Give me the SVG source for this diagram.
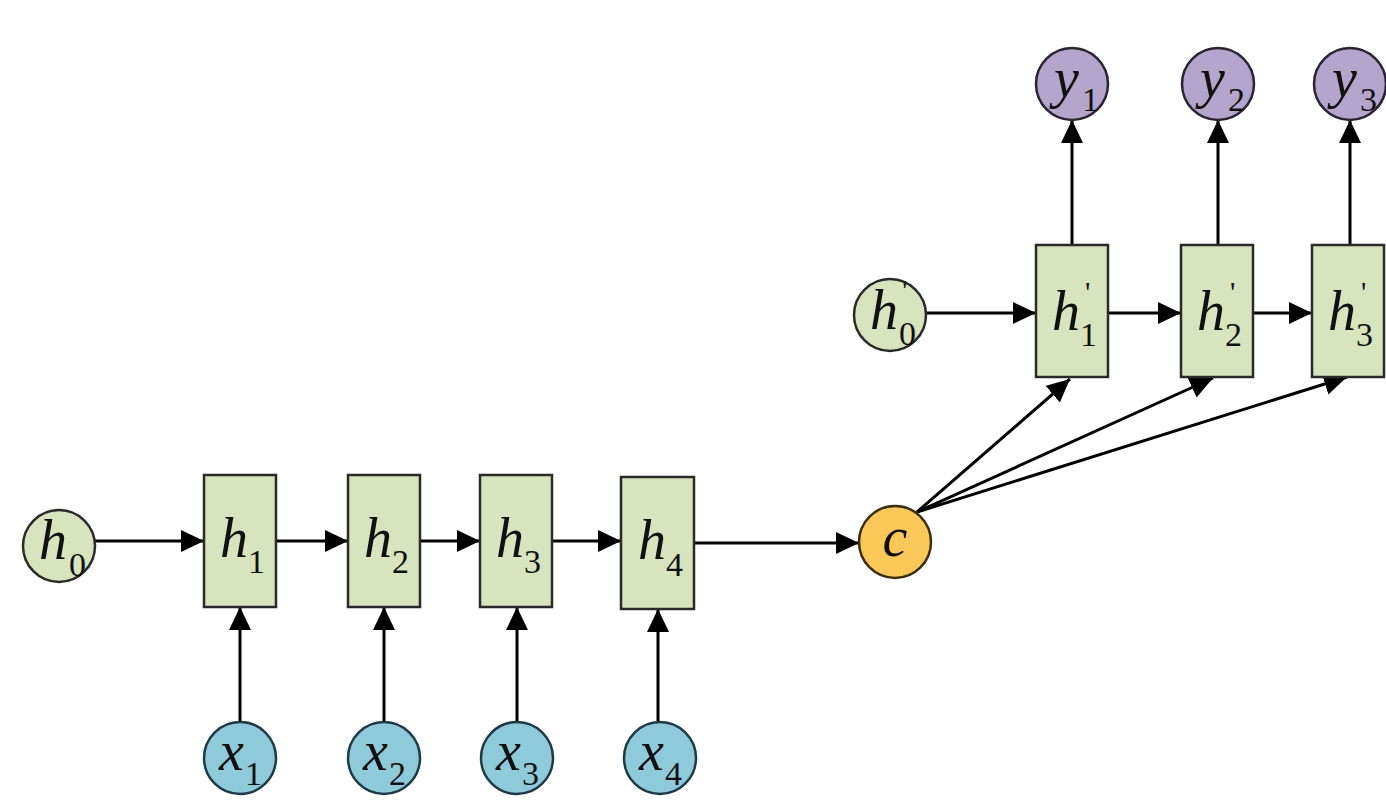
<svg xmlns="http://www.w3.org/2000/svg" width="1386" height="806" viewBox="0 0 1386 806">
<style>
.box{fill:#D7E4BD;stroke:#2a2a2a;stroke-width:2.5}
.hc{fill:#D7E4BD;stroke:#2a2a2a;stroke-width:2.5}
.xc{fill:#8FCADB;stroke:#1f3a44;stroke-width:2.5}
.yc{fill:#B3A5CB;stroke:#2a2433;stroke-width:2.5}
.cc{fill:#F9C858;stroke:#3a2e10;stroke-width:2.5}
.lbl{font-family:"Liberation Serif","Times New Roman",serif;font-size:56px;fill:#111}
.v{font-style:italic}
.s{font-size:34px;font-style:normal}
.p{font-size:30px;font-style:normal}
.ar{stroke:#000;stroke-width:3;fill:none;marker-end:url(#ah)}
</style>
<defs>
<marker id="ah" markerUnits="userSpaceOnUse" markerWidth="26" markerHeight="24" refX="23" refY="11" orient="auto">
<path d="M0,0 L23,11 L0,22 z" fill="#000"/>
</marker>
</defs>
<rect width="1386" height="806" fill="#fff"/>
<g id="connectors">
<line class="ar" x1="95" y1="541" x2="204" y2="541"/>
<line class="ar" x1="276" y1="541" x2="348" y2="541"/>
<line class="ar" x1="420" y1="541" x2="480" y2="541"/>
<line class="ar" x1="552" y1="541" x2="621" y2="541"/>
<line class="ar" x1="694" y1="543" x2="859" y2="543"/>
<line class="ar" x1="240" y1="722" x2="240" y2="607"/>
<line class="ar" x1="384" y1="722" x2="384" y2="607"/>
<line class="ar" x1="517" y1="722" x2="517" y2="607"/>
<line class="ar" x1="658" y1="722" x2="658" y2="609"/>
<line class="ar" x1="926" y1="313" x2="1036" y2="313"/>
<line class="ar" x1="1108" y1="313" x2="1181" y2="313"/>
<line class="ar" x1="1253" y1="313" x2="1312" y2="313"/>
<line class="ar" x1="1072" y1="245" x2="1072" y2="120"/>
<line class="ar" x1="1218" y1="245" x2="1218" y2="120"/>
<line class="ar" x1="1350" y1="245" x2="1350" y2="120"/>
<line class="ar" x1="917" y1="512" x2="1070" y2="379"/>
<line class="ar" x1="917" y1="512" x2="1213" y2="378"/>
<line class="ar" x1="917" y1="512" x2="1347" y2="377"/>
</g>
<g id="h0"><circle class="hc" cx="59" cy="546" r="36"/><text class="lbl"><tspan class="v" x="39" y="559">h</tspan><tspan class="s" x="69" y="576">0</tspan></text></g>
<g id="h1"><rect class="box" x="204" y="475" width="72" height="132"/><text class="lbl"><tspan class="v" x="220" y="557">h</tspan><tspan class="s" x="248" y="573">1</tspan></text></g>
<g id="h2"><rect class="box" x="348" y="475" width="72" height="132"/><text class="lbl"><tspan class="v" x="364" y="557">h</tspan><tspan class="s" x="392" y="573">2</tspan></text></g>
<g id="h3"><rect class="box" x="480" y="475" width="72" height="132"/><text class="lbl"><tspan class="v" x="496" y="557">h</tspan><tspan class="s" x="524" y="573">3</tspan></text></g>
<g id="h4"><rect class="box" x="621" y="477" width="73" height="132"/><text class="lbl"><tspan class="v" x="638" y="559">h</tspan><tspan class="s" x="666" y="576">4</tspan></text></g>
<g id="x1"><circle class="xc" cx="240" cy="758" r="36"/><text class="lbl"><tspan class="v" x="219" y="770">x</tspan><tspan class="s" x="245" y="785">1</tspan></text></g>
<g id="x2"><circle class="xc" cx="384" cy="758" r="36"/><text class="lbl"><tspan class="v" x="363" y="770">x</tspan><tspan class="s" x="389" y="785">2</tspan></text></g>
<g id="x3"><circle class="xc" cx="517" cy="758" r="36"/><text class="lbl"><tspan class="v" x="496" y="770">x</tspan><tspan class="s" x="522" y="785">3</tspan></text></g>
<g id="x4"><circle class="xc" cx="660" cy="758" r="36"/><text class="lbl"><tspan class="v" x="639" y="770">x</tspan><tspan class="s" x="665" y="785">4</tspan></text></g>
<g id="c"><circle class="cc" cx="895" cy="542" r="36"/><text class="lbl"><tspan class="v" x="895" y="556" text-anchor="middle">c</tspan></text></g>
<g id="h0p"><circle class="hc" cx="890" cy="315" r="36"/><text class="lbl"><tspan class="v" x="870" y="329">h</tspan><tspan class="p" x="902" y="300">'</tspan><tspan class="s" x="899" y="345">0</tspan></text></g>
<g id="h1p"><rect class="box" x="1036" y="245" width="72" height="132"/><text class="lbl"><tspan class="v" x="1052" y="330">h</tspan><tspan class="p" x="1085" y="302">'</tspan><tspan class="s" x="1080" y="346">1</tspan></text></g>
<g id="h2p"><rect class="box" x="1181" y="245" width="72" height="132"/><text class="lbl"><tspan class="v" x="1197" y="330">h</tspan><tspan class="p" x="1230" y="302">'</tspan><tspan class="s" x="1225" y="346">2</tspan></text></g>
<g id="h3p"><rect class="box" x="1312" y="245" width="72" height="132"/><text class="lbl"><tspan class="v" x="1328" y="330">h</tspan><tspan class="p" x="1361" y="302">'</tspan><tspan class="s" x="1356" y="346">3</tspan></text></g>
<g id="y1"><circle class="yc" cx="1072" cy="84" r="36"/><text class="lbl"><tspan class="v" x="1054" y="97">y</tspan><tspan class="s" x="1082" y="111">1</tspan></text></g>
<g id="y2"><circle class="yc" cx="1218" cy="84" r="36"/><text class="lbl"><tspan class="v" x="1200" y="97">y</tspan><tspan class="s" x="1228" y="111">2</tspan></text></g>
<g id="y3"><circle class="yc" cx="1350" cy="84" r="36"/><text class="lbl"><tspan class="v" x="1332" y="97">y</tspan><tspan class="s" x="1360" y="111">3</tspan></text></g>
</svg>
